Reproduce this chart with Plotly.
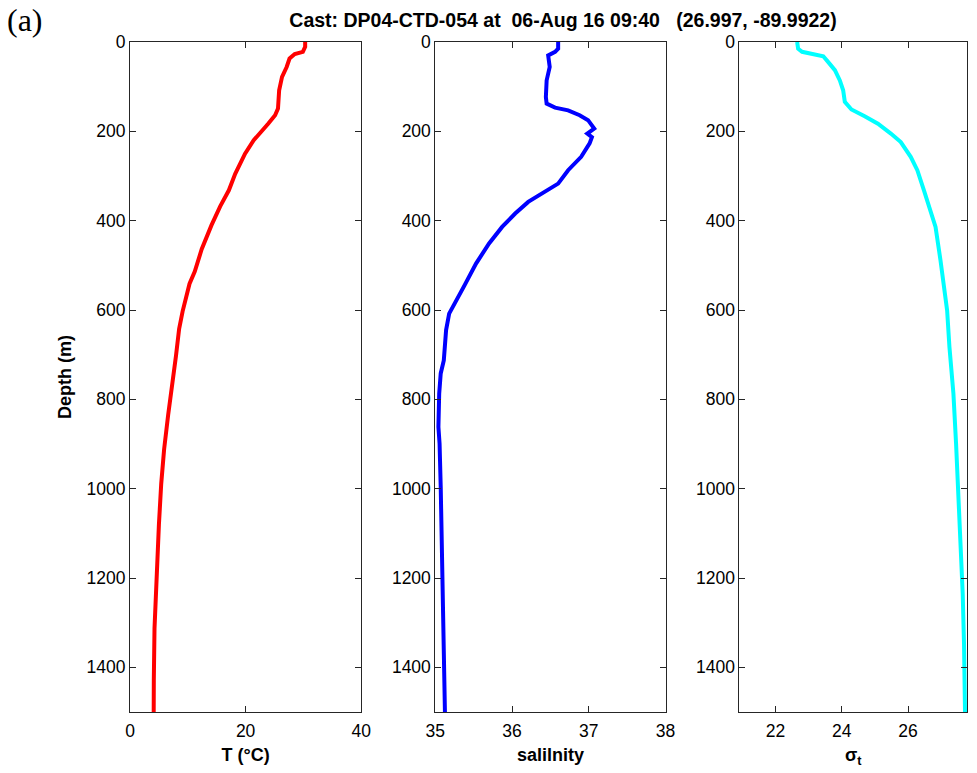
import plotly.graph_objects as go

# ---- data ----
depth_T = [0, 11, 22, 27, 37, 56, 78, 108, 149, 164, 183, 198, 220, 250, 269, 295, 332, 368,
           410, 464, 514, 541, 603, 642, 703, 757, 835, 912, 989, 1081, 1197, 1313, 1429, 1500]
temperature = [30.3, 30.3, 29.9, 28.5, 27.6, 27.1, 26.3, 25.8, 25.6, 25.1, 23.9, 22.8, 21.4, 19.9,
               19.1, 18.2, 17.1, 15.6, 14.1, 12.4, 11.2, 10.3, 9.1, 8.5, 7.95, 7.37, 6.6, 5.9, 5.4,
               5.0, 4.6, 4.24, 4.12, 4.1]

depth_S = [0, 15, 22, 30, 56, 86, 123, 138, 147, 153, 164, 175, 194, 205, 213, 227, 257, 287, 317,
           339, 358, 384, 414, 451, 496, 545, 586, 608, 645, 713, 742, 787, 862, 899, 996, 1086,
           1175, 1250, 1384, 1500]
salinity = [36.60, 36.60, 36.56, 36.47, 36.49, 36.45, 36.44, 36.45, 36.56, 36.73, 36.88, 36.99,
            37.07, 36.98, 37.04, 37.01, 36.90, 36.73, 36.60, 36.39, 36.21, 36.04, 35.87, 35.70,
            35.53, 35.38, 35.25, 35.18, 35.14, 35.11, 35.07, 35.05, 35.04, 35.055, 35.07, 35.08,
            35.10, 35.11, 35.12, 35.125]

depth_sig = [0, 15, 22, 27, 32, 45, 63, 86, 108, 134, 151, 166, 183, 205, 224, 257, 287, 332, 377,
             414, 489, 541, 601, 683, 750, 787, 899, 1011, 1123, 1235, 1347, 1500]
sigma_t = [22.65, 22.68, 22.80, 23.10, 23.44, 23.59, 23.79, 23.94, 24.04, 24.09, 24.29, 24.69,
           25.09, 25.48, 25.78, 26.08, 26.28, 26.48, 26.68, 26.83, 26.98, 27.07, 27.18, 27.25,
           27.33, 27.37, 27.45, 27.52, 27.59, 27.65, 27.69, 27.72]

depth_ticks = [0, 200, 400, 600, 800, 1000, 1200, 1400]
T_ticks = [0, 20, 40]
S_ticks = [35, 36, 37, 38]
sig_ticks = [22, 24, 26]

title_text = "Cast: DP04-CTD-054 at&nbsp; 06-Aug 16 09:40 &nbsp; (26.997, -89.9922)"
panel_label = "(a)"

FONT = "Liberation Sans, Arial, sans-serif"
AX = "#262626"

fig = go.Figure()
fig.add_trace(go.Scatter(x=temperature, y=depth_T, mode="lines",
                         line=dict(color="#ff0000", width=4), xaxis="x", yaxis="y"))
fig.add_trace(go.Scatter(x=salinity, y=depth_S, mode="lines",
                         line=dict(color="#0000ff", width=4), xaxis="x2", yaxis="y2"))
fig.add_trace(go.Scatter(x=sigma_t, y=depth_sig, mode="lines",
                         line=dict(color="#00ffff", width=4), xaxis="x3", yaxis="y3"))

W, H = 977, 773
L, R, T, B = 130, 0, 42, 61
pw = W - L - R


def dom(a, b):
    return [(a - L) / pw, min(1.0, (b - L) / pw)]


common_x = dict(showline=True, linecolor=AX, linewidth=1, mirror="allticks", ticks="inside",
                ticklen=6, tickcolor=AX, showgrid=False, zeroline=False, ticklabelstandoff=3,
                tickfont=dict(family=FONT, size=17.5, color="#000"),
                title_font=dict(family=FONT, size=18, color="#000"), title_standoff=8)
common_y = dict(showline=True, linecolor=AX, linewidth=1, mirror="allticks", ticks="inside",
                ticklen=6, tickcolor=AX, showgrid=False, zeroline=False, range=[1500, 0],
                tickvals=depth_ticks,
                tickfont=dict(family=FONT, size=17.5, color="#000"))

fig.update_layout(
    width=W, height=H,
    margin=dict(l=L, r=R, t=T, b=B),
    paper_bgcolor="white", plot_bgcolor="white",
    showlegend=False,
    xaxis=dict(common_x, domain=dom(130, 364), range=[0, 40], tickvals=T_ticks,
               title=dict(text="<b>T (°C)</b>"), anchor="y"),
    xaxis2=dict(common_x, domain=dom(439, 672), range=[35, 38], tickvals=S_ticks,
                title=dict(text="<b>salilnity</b>"), anchor="y2"),
    xaxis3=dict(common_x, domain=dom(746.7, 977), range=[20.907, 27.78], tickvals=sig_ticks,
                title=dict(text="<b>σ<sub>t</sub></b>"), anchor="y3"),
    yaxis=dict(common_y, anchor="x", title=dict(text="<b>Depth (m)</b>",
               font=dict(family=FONT, size=18, color="#000"), standoff=10)),
    yaxis2=dict(common_y, anchor="x2", matches="y"),
    yaxis3=dict(common_y, anchor="x3", matches="y"),
    title=dict(text="<b>" + title_text + "</b>", x=563 / W, xanchor="center",
               y=1 - 20 / H, yanchor="middle", font=dict(family=FONT, size=19.5, color="#000")),
    annotations=[dict(text=panel_label, xref="paper", yref="paper", x=-L / pw + 4 / pw,
                      y=1 + (T - 20) / (H - T - B), xanchor="left", yanchor="middle",
                      showarrow=False, font=dict(family="Liberation Serif, serif", size=32,
                                                 color="#000"))],
)

fig.write_html("out.html")
